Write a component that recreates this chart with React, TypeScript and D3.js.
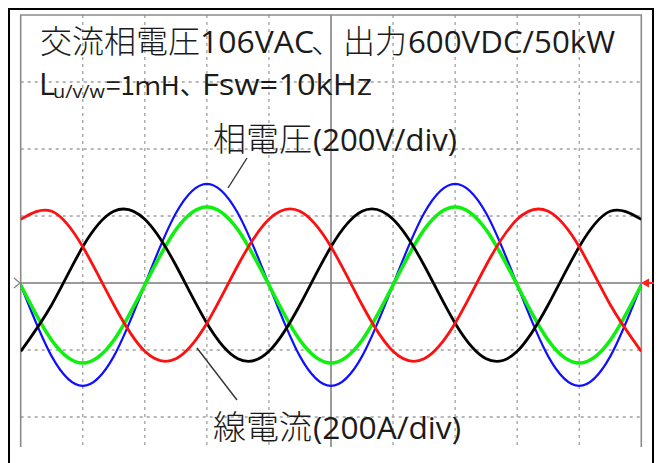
import React from "react";
import * as d3 from "d3";

// time axis in ms (5 ms/div, 10 divisions)
const timeMs = [0, 2.5, 5, 7.5, 10, 12.5, 15, 17.5, 20, 22.5, 25, 27.5, 30, 32.5, 35, 37.5, 40, 42.5, 45, 47.5, 50];
// phase voltage (V), 200 V/div
const voltageBlue = [-5, -219, -307, -219, -5, 208, 296, 208, -5, -219, -307, -219, -5, 208, 296, 208, -5, -219, -307, -219, -5];
// line currents (A), 200 A/div
const currentGreen = [-6, -171, -239, -171, -6, 159, 227, 159, -6, -171, -239, -171, -6, 159, 227, 159, -6, -171, -239, -171, -6];
const currentRed = [190, 214, 108, -65, -204, -226, -120, 53, 190, 214, 108, -65, -204, -226, -120, 53, 190, 214, 108, -65, -204];
const currentBlack = [-204, -65, 108, 214, 190, 53, -120, -226, -204, -65, 108, 214, 190, 53, -120, -226, -204, -65, 108, 214, 190];

const xDivs = [1, 2, 3, 4, 5, 6, 7, 8, 9];
const yDivs = [-4, -3, -2, -1, 0, 1, 2, 3, 4];

const CJK = "'Noto Sans CJK JP', sans-serif";
const LAT = "'Open Sans', 'Noto Sans', sans-serif";
const TXT = "#1b1b1b";

export default function App() {
  const W = 658, H = 463;
  const left = 20.7, right = 641.3, top = 15, bottom = 447;
  const cy = 283;
  const div = 67;
  const x = d3.scaleLinear().domain([0, 50]).range([left, right]);
  const xd = d3.scaleLinear().domain([0, 10]).range([left, right]);
  const yV = d3.scaleLinear().domain([-200, 200]).range([cy + div, cy - div]);
  const yI = d3.scaleLinear().domain([-200, 200]).range([cy + div, cy - div]);
  const yd = (k: number) => cy - k * div;

  const lineV = d3.line<number>().x((_, i) => x(timeMs[i])).y((v) => yV(v)).curve(d3.curveNatural);
  const lineI = d3.line<number>().x((_, i) => x(timeMs[i])).y((v) => yI(v)).curve(d3.curveNatural);

  return (
    <svg width={W} height={H} style={{ position: "absolute", left: 0, top: 0, background: "#fff" }}>
      <rect x={0} y={0} width={W} height={H} fill="#fff" />
      <defs>
        <clipPath id="plot">
          <rect x={left} y={top} width={right - left} height={bottom - top} />
        </clipPath>
      </defs>
      {/* outer border */}
      <rect x={9} y={9} width={644} height={470} fill="none" stroke="#000" strokeWidth={2} />
      {/* grid */}
      {xDivs.filter((k) => k !== 5).map((k) => (
        <line key={"gx" + k} x1={xd(k)} x2={xd(k)} y1={top} y2={bottom} stroke="#a0a0a0" strokeWidth={1.3} strokeDasharray="3,4" />
      ))}
      {yDivs.filter((k) => k !== 0 && yd(k) > top + 1 && yd(k) < bottom).map((k) => (
        <line key={"gy" + k} x1={left} x2={right} y1={yd(k)} y2={yd(k)} stroke="#a0a0a0" strokeWidth={1.3} strokeDasharray="3,4" />
      ))}
      <line x1={xd(5)} x2={xd(5)} y1={top} y2={bottom} stroke="#7a7a7a" strokeWidth={1.5} />
      <line x1={left} x2={right} y1={cy} y2={cy} stroke="#7a7a7a" strokeWidth={1.5} />
      {/* frame */}
      <path d={`M${left},${bottom}V${top}H${right}V${bottom}`} fill="none" stroke="#8a8a8a" strokeWidth={1.6} />
      {/* ground markers */}
      <path d={`M14,${cy - 5}L20,${cy}L14,${cy + 5}`} fill="none" stroke="#888" strokeWidth={1.3} />
      {/* traces */}
      <g clipPath="url(#plot)" fill="none" strokeLinejoin="round">
        <path d={lineV(voltageBlue) || ""} stroke="#1010ff" strokeWidth={2.2} />
        <path d={lineI(currentGreen) || ""} stroke="#10f010" strokeWidth={3.6} />
        <path d={lineI(currentBlack) || ""} stroke="#000" strokeWidth={2.8} />
        <path d={lineI(currentRed) || ""} stroke="#ff1010" strokeWidth={2.8} />
      </g>
      <path d={`M641,${cy}L649,${cy - 4.5}L649,${cy + 4.5}Z`} fill="#ff2020" />
      <line x1={646} x2={654} y1={cy} y2={cy} stroke="#ff2020" strokeWidth={2} />
      {/* callout lines */}
      <line x1={228} y1={188} x2={247} y2={158} stroke="#333" strokeWidth={1.4} />
      <line x1={197} y1={348} x2={237} y2={400} stroke="#333" strokeWidth={1.4} />
      {/* title line 1 */}
      <g fill={TXT}>
        <text x={40} y={53} fontFamily={CJK} fontSize={32} fontWeight={300}>交流相電圧</text>
        <text x={200} y={53} fontFamily={LAT} fontSize={31} textLength={114} lengthAdjust="spacingAndGlyphs">106VAC</text>
        <text x={311} y={53} fontFamily={CJK} fontSize={32} fontWeight={300}>、出力</text>
        <text x={408} y={53} fontFamily={LAT} fontSize={31} textLength={207} lengthAdjust="spacingAndGlyphs">600VDC/50kW</text>
        {/* line 2 */}
        <text x={39} y={95} fontFamily={LAT} fontSize={31}>L</text>
        <text x={53} y={98} fontFamily={LAT} fontSize={19} textLength={52} lengthAdjust="spacingAndGlyphs">u/v/w</text>
        <text x={106} y={95} fontFamily={CJK} fontSize={26}>=1ｍH、</text>
        <text x={202} y={95} fontFamily={LAT} fontSize={30} textLength={170} lengthAdjust="spacingAndGlyphs">Fsw=10kHz</text>
        {/* labels */}
        <text x={213} y={151} fontFamily={CJK} fontSize={33} fontWeight={300}>相電圧</text>
        <text x={313} y={151} fontFamily={LAT} fontSize={31} textLength={144} lengthAdjust="spacingAndGlyphs">(200V/div)</text>
        <text x={213} y={439} fontFamily={CJK} fontSize={33} fontWeight={300}>線電流</text>
        <text x={313} y={439} fontFamily={LAT} fontSize={31} textLength={148} lengthAdjust="spacingAndGlyphs">(200A/div)</text>
      </g>
    </svg>
  );
}
